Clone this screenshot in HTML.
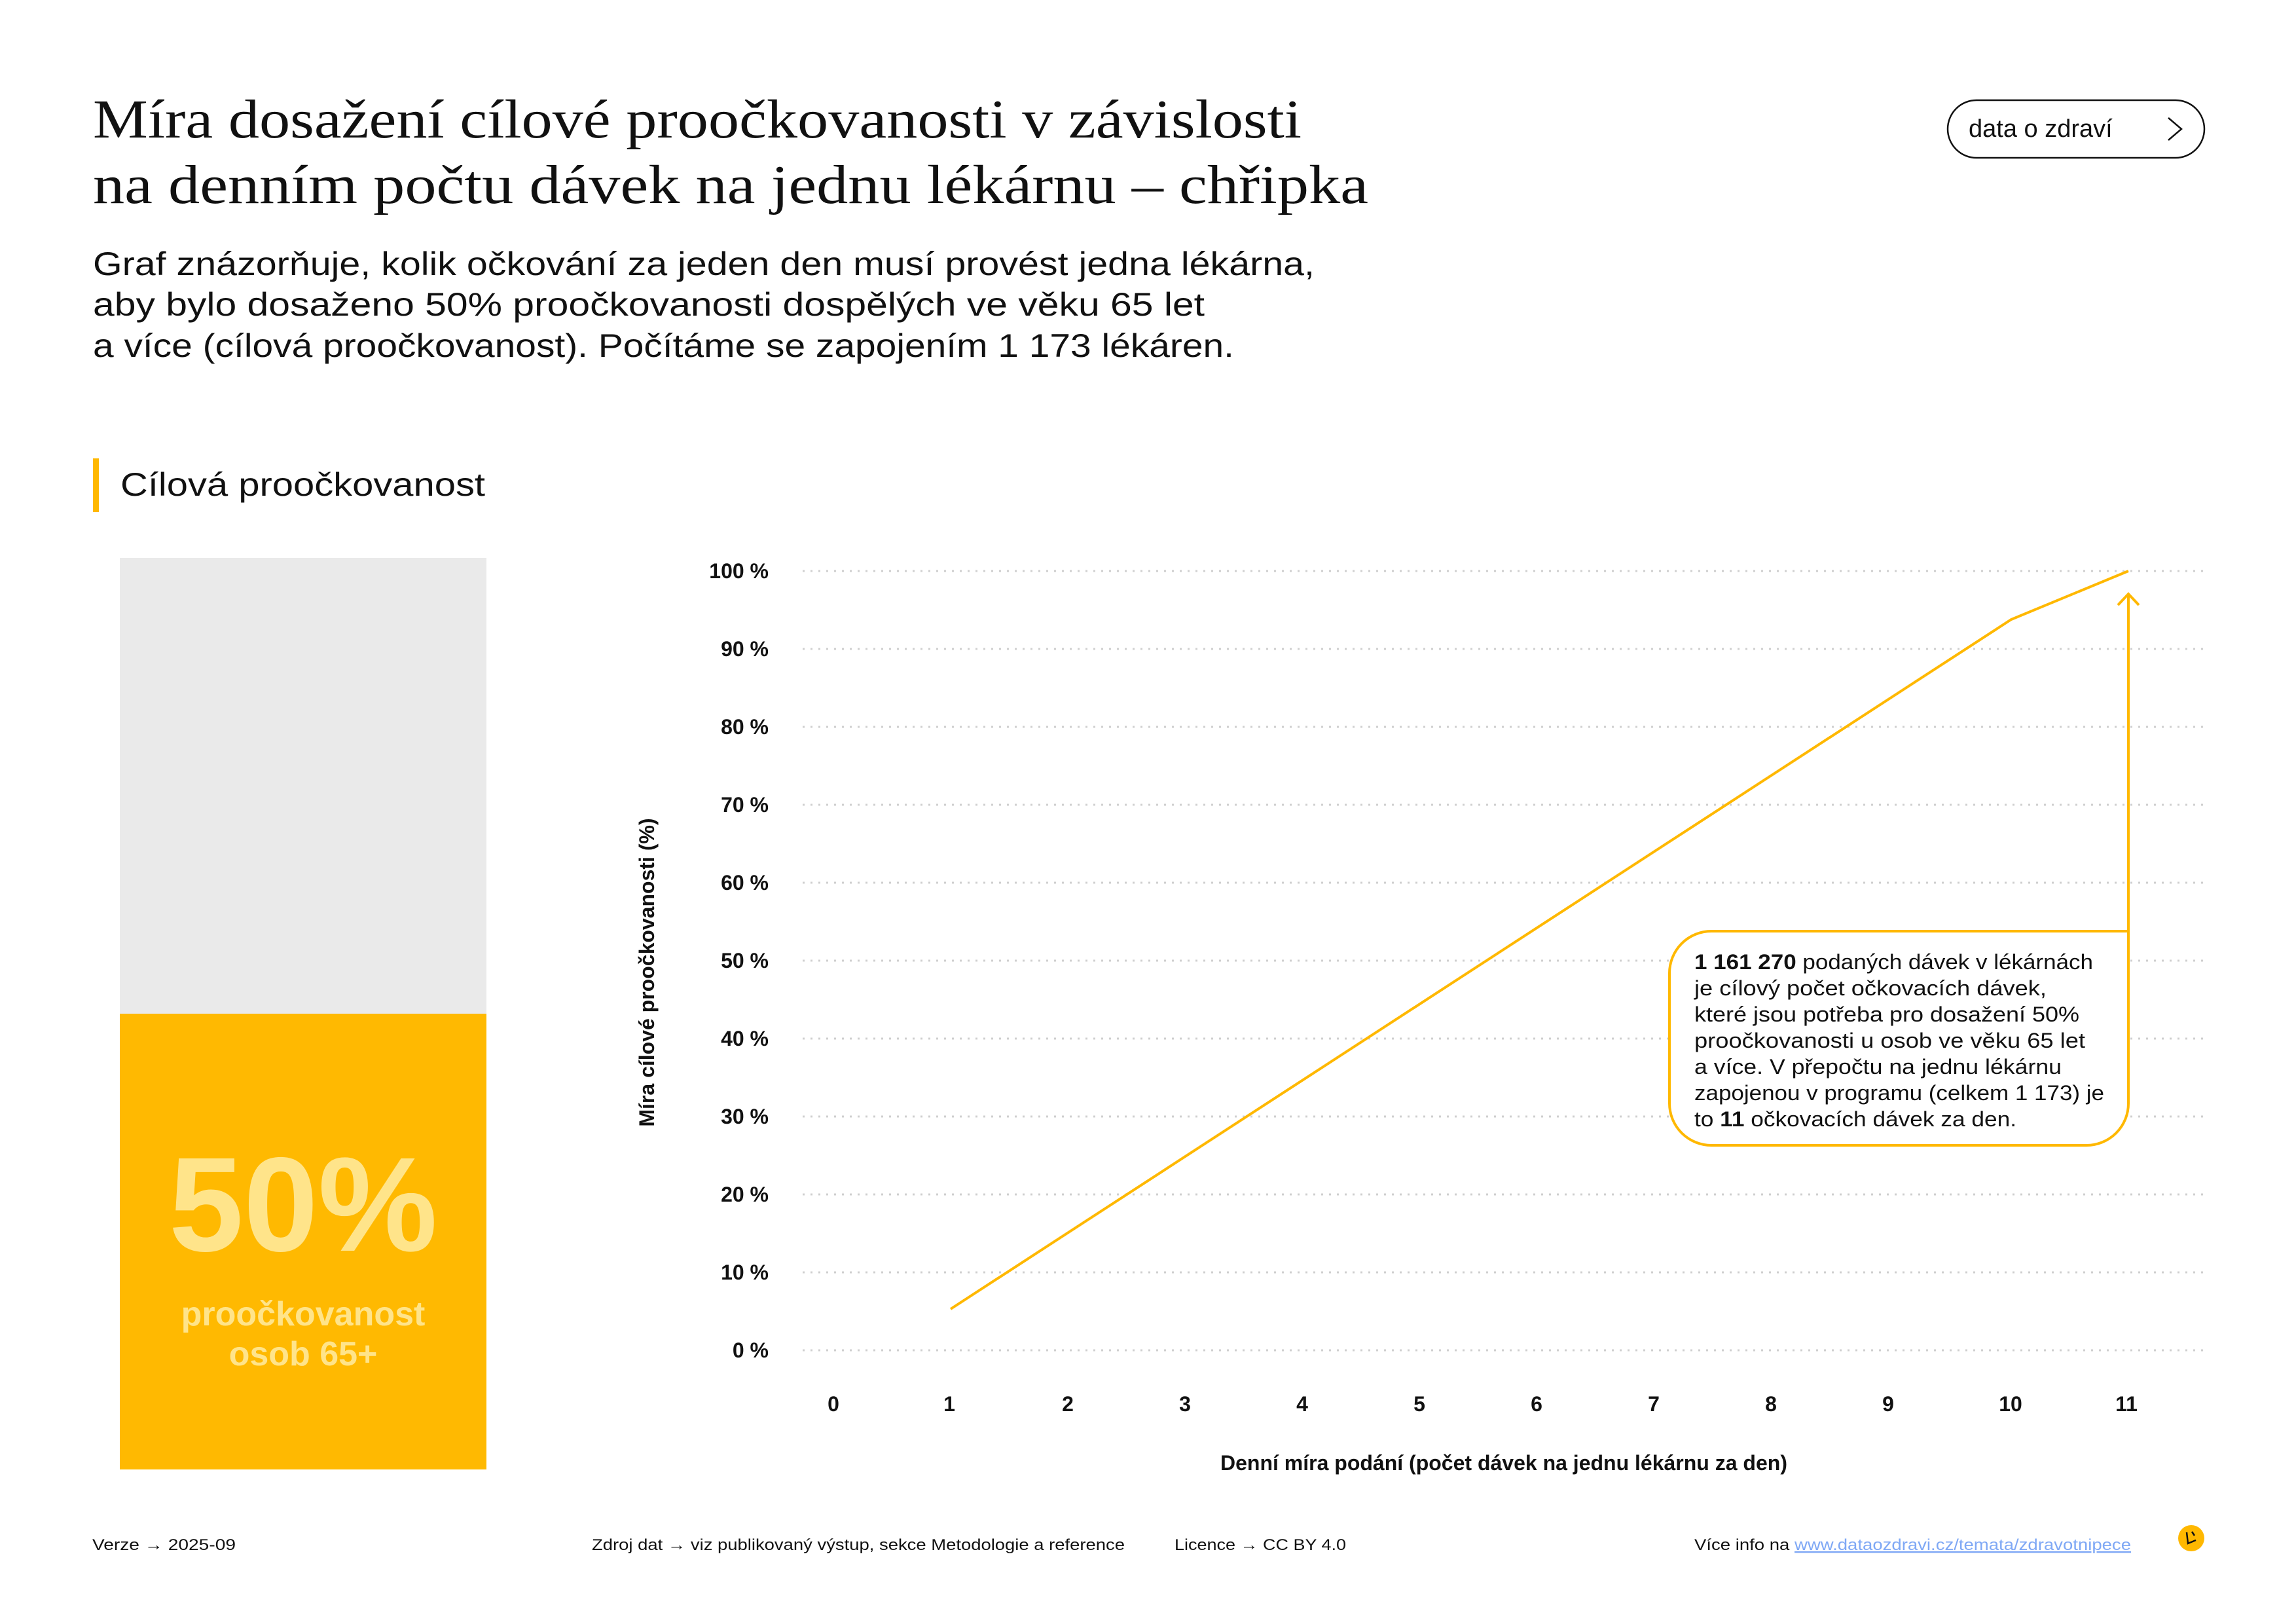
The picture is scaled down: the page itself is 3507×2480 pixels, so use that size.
<!DOCTYPE html>
<html><head><meta charset="utf-8"><style>
html,body{margin:0;padding:0;background:#fff}
svg{display:block}
text{font-family:"Liberation Sans",sans-serif;fill:#111}
</style></head><body>
<svg width="3507" height="2480" viewBox="0 0 3507 2480" xmlns="http://www.w3.org/2000/svg">
<!-- title -->
<text x="142" y="210" style="font-family:'Liberation Serif',serif;font-size:84px" textLength="1846" lengthAdjust="spacingAndGlyphs">Míra dosažení cílové proočkovanosti v závislosti</text>
<text x="142" y="310" style="font-family:'Liberation Serif',serif;font-size:84px" textLength="1948" lengthAdjust="spacingAndGlyphs">na denním počtu dávek na jednu lékárnu – chřipka</text>
<text x="142" y="420" font-size="50" textLength="1866" lengthAdjust="spacingAndGlyphs">Graf znázorňuje, kolik očkování za jeden den musí provést jedna lékárna,</text>
<text x="142" y="482" font-size="50" textLength="1698" lengthAdjust="spacingAndGlyphs">aby bylo dosaženo 50% proočkovanosti dospělých ve věku 65 let</text>
<text x="142" y="545" font-size="50" textLength="1743" lengthAdjust="spacingAndGlyphs">a více (cílová proočkovanost). Počítáme se zapojením 1 173 lékáren.</text>
<!-- button -->
<rect x="2975" y="153" width="392" height="88" rx="44" fill="none" stroke="#111" stroke-width="2.5"/>
<text x="3007" y="209" font-size="38">data o zdraví</text>
<path d="M3312 180 L3332 197 L3312 214" fill="none" stroke="#111" stroke-width="2.5"/>
<!-- section -->
<rect x="142" y="700" width="9" height="82" fill="#FFB800"/>
<text x="184" y="757" font-size="50" textLength="557" lengthAdjust="spacingAndGlyphs">Cílová proočkovanost</text>
<!-- bar -->
<rect x="183" y="852" width="560" height="697" fill="#EAEAEA"/>
<rect x="183" y="1548" width="560" height="696" fill="#FFB901"/>
<text x="463" y="1910" font-size="205" font-weight="bold" text-anchor="middle" style="fill:#FFE48A">50%</text>
<text x="463" y="2024" font-size="52" font-weight="bold" text-anchor="middle" style="fill:#FFE48A">proočkovanost</text>
<text x="463" y="2085" font-size="52" font-weight="bold" text-anchor="middle" style="fill:#FFE48A">osob 65+</text>
<!-- grid -->
<g stroke="#CFCFCF" stroke-width="3" stroke-dasharray="3 9">
<line x1="1226" x2="3367" y1="872" y2="872"/><line x1="1226" x2="3367" y1="991" y2="991"/>
<line x1="1226" x2="3367" y1="1110" y2="1110"/><line x1="1226" x2="3367" y1="1229" y2="1229"/>
<line x1="1226" x2="3367" y1="1348" y2="1348"/><line x1="1226" x2="3367" y1="1467" y2="1467"/>
<line x1="1226" x2="3367" y1="1586" y2="1586"/><line x1="1226" x2="3367" y1="1705" y2="1705"/>
<line x1="1226" x2="3367" y1="1824" y2="1824"/><line x1="1226" x2="3367" y1="1943" y2="1943"/>
<line x1="1226" x2="3367" y1="2062" y2="2062"/>
</g>
<g font-size="32" font-weight="bold" text-anchor="end">
<text x="1174" y="883">100 %</text><text x="1174" y="1002">90 %</text><text x="1174" y="1121">80 %</text>
<text x="1174" y="1240">70 %</text><text x="1174" y="1359">60 %</text><text x="1174" y="1478">50 %</text>
<text x="1174" y="1597">40 %</text><text x="1174" y="1716">30 %</text><text x="1174" y="1835">20 %</text>
<text x="1174" y="1954">10 %</text><text x="1174" y="2073">0 %</text>
</g>
<text transform="translate(999,1485) rotate(-90)" font-size="32" font-weight="bold" text-anchor="middle">Míra cílové proočkovanosti (%)</text>
<g font-size="32" font-weight="bold" text-anchor="middle">
<text x="1273" y="2155">0</text><text x="1450" y="2155">1</text><text x="1631" y="2155">2</text>
<text x="1810" y="2155">3</text><text x="1989" y="2155">4</text><text x="2168" y="2155">5</text>
<text x="2347" y="2155">6</text><text x="2526" y="2155">7</text><text x="2705" y="2155">8</text>
<text x="2884" y="2155">9</text><text x="3071" y="2155">10</text><text x="3248" y="2155">11</text>
</g>
<text x="2297" y="2245" font-size="32" font-weight="bold" text-anchor="middle">Denní míra podání (počet dávek na jednu lékárnu za den)</text>
<!-- series -->
<polyline points="1452,1999 3072,946 3251,872" fill="none" stroke="#FFB800" stroke-width="4"/>
<line x1="3251" y1="1422" x2="3251" y2="908" stroke="#FFB800" stroke-width="4"/>
<path d="M3235 924 L3251 907 L3267 924" fill="none" stroke="#FFB800" stroke-width="4"/>
<path d="M2614 1422 H3251 V1685 A64 64 0 0 1 3187 1749 H2614 A64 64 0 0 1 2550 1685 V1486 A64 64 0 0 1 2614 1422 Z" fill="#fff" stroke="#FFB800" stroke-width="4"/>
<g font-size="32">
<text x="2588" y="1480" textLength="609" lengthAdjust="spacingAndGlyphs"><tspan font-weight="bold">1 161 270</tspan> podaných dávek v lékárnách</text>
<text x="2588" y="1520" textLength="538" lengthAdjust="spacingAndGlyphs">je cílový počet očkovacích dávek,</text>
<text x="2588" y="1560" textLength="588" lengthAdjust="spacingAndGlyphs">které jsou potřeba pro dosažení 50%</text>
<text x="2588" y="1600" textLength="597" lengthAdjust="spacingAndGlyphs">proočkovanosti u osob ve věku 65 let</text>
<text x="2588" y="1640" textLength="561" lengthAdjust="spacingAndGlyphs">a více. V přepočtu na jednu lékárnu</text>
<text x="2588" y="1680" textLength="626" lengthAdjust="spacingAndGlyphs">zapojenou v programu (celkem 1 173) je</text>
<text x="2588" y="1720" textLength="492" lengthAdjust="spacingAndGlyphs">to <tspan font-weight="bold">11</tspan> očkovacích dávek za den.</text>
</g>
<!-- footer -->
<g font-size="24">
<text x="141" y="2367" textLength="219" lengthAdjust="spacingAndGlyphs">Verze  →  2025-09</text>
<text x="904" y="2367" textLength="814" lengthAdjust="spacingAndGlyphs">Zdroj dat  →  viz publikovaný výstup, sekce Metodologie a reference</text>
<text x="1794" y="2367" textLength="262" lengthAdjust="spacingAndGlyphs">Licence  →  CC BY 4.0</text>
<text x="2588" y="2367" textLength="667" lengthAdjust="spacingAndGlyphs">Více info na <tspan style="fill:#7FA8F5" text-decoration="underline">www.dataozdravi.cz/temata/zdravotnipece</tspan></text>
</g>
<circle cx="3347" cy="2349" r="20" fill="#FFB800"/>
<path d="M3340 2340 L3342 2357 L3354 2352 M3348 2339 L3352 2345" fill="none" stroke="#111" stroke-width="2.5"/>
</svg>
</body></html>
